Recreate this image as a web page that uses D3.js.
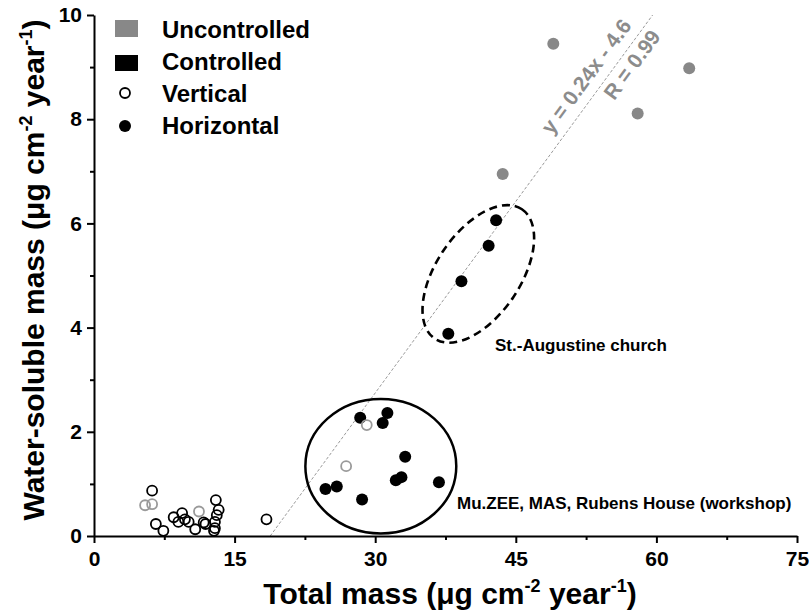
<!DOCTYPE html>
<html>
<head>
<meta charset="utf-8">
<script src="https://cdn.jsdelivr.net/npm/d3@7"></script>
<style>
  html, body { margin: 0; padding: 0; background: #fff; }
  svg { display: block; font-family: Arial, "Liberation Sans", sans-serif; }
</style>
</head>
<body>
<svg id="chart" width="809" height="614"></svg>
<script>
// ---------- data ----------
const xTicks = [0, 15, 30, 45, 60, 75];
const xMinorTicks = [7.5, 22.5, 37.5, 52.5, 67.5];
const yTicks = [0, 2, 4, 6, 8, 10];
const yMinorTicks = [1, 3, 5, 7, 9];

// Uncontrolled, horizontal (grey filled)
const uncHorX = [43.6, 49.0, 58.0, 63.5];
const uncHorY = [6.95, 9.45, 8.11, 8.98];
// Controlled, horizontal (black filled)
const ctrlHorX = [42.9, 42.1, 39.2, 37.8, 28.4, 31.3, 30.8, 33.2, 32.2, 32.8, 36.8, 24.7, 25.9, 28.6];
const ctrlHorY = [6.06, 5.57, 4.89, 3.88, 2.27, 2.36, 2.17, 1.52, 1.07, 1.13, 1.03, 0.90, 0.95, 0.70];
// Controlled, vertical (black open)
const ctrlVerX = [6.2, 6.6, 7.4, 8.5, 9.4, 9.0, 9.7, 10.1, 10.8, 11.7, 11.9, 12.8, 13.0, 13.3, 13.1, 12.9, 12.9, 18.4];
const ctrlVerY = [0.87, 0.23, 0.10, 0.36, 0.44, 0.27, 0.32, 0.27, 0.13, 0.26, 0.23, 0.10, 0.69, 0.50, 0.40, 0.27, 0.15, 0.32];
// Uncontrolled, vertical (grey open)
const uncVerX = [5.45, 6.2, 11.2, 29.1, 26.9];
const uncVerY = [0.59, 0.61, 0.47, 2.13, 1.34];

// regression line end points
const fitX = [18.8, 59.6];
const fitY = [0.0, 10.0];
const fitLabel = "y = 0.24x - 4.6";
const fitRLabel = "R = 0.99";

const legendLabels = ["Uncontrolled", "Controlled", "Vertical", "Horizontal"];
const annotations = ["St.-Augustine church", "Mu.ZEE, MAS, Rubens House (workshop)"];

// ---------- layout ----------
const svg = d3.select("#chart");
const x = d3.scaleLinear().domain([0, 75]).range([94, 797]);
const y = d3.scaleLinear().domain([0, 10]).range([536, 15]);
const GREY = "#888888";
const GREY_OPEN = "#9a9a9a";

const zip = (xs, ys) => xs.map((v, i) => ({x: v, y: ys[i]}));

// regression line
svg.append("line")
  .attr("x1", x(fitX[0])).attr("y1", y(fitY[0]))
  .attr("x2", x(fitX[1])).attr("y2", y(fitY[1]))
  .attr("stroke", "#9a9a9a").attr("stroke-width", 1)
  .attr("stroke-dasharray", "3,2");

// ellipses (annotation)
svg.append("ellipse")
  .attr("cx", x(30.6)).attr("cy", y(1.34))
  .attr("rx", x(30.6 + 8.05) - x(30.6))
  .attr("ry", y(1.34) - y(1.34 + 1.29))
  .attr("fill", "none").attr("stroke", "#000").attr("stroke-width", 2.5);

svg.append("ellipse")
  .attr("transform", `translate(${x(41.0)},${y(5.03)}) rotate(-56)`)
  .attr("cx", 0).attr("cy", 0).attr("rx", 78).attr("ry", 42)
  .attr("fill", "none").attr("stroke", "#000").attr("stroke-width", 2.6)
  .attr("stroke-dasharray", "8,5");

// axes
const axisStyle = g => {
  g.selectAll("path.domain").attr("stroke", "#000").attr("stroke-width", 2);
  g.selectAll(".tick line").attr("stroke", "#000").attr("stroke-width", 2);
  g.selectAll(".tick text").attr("fill", "#000").attr("font-size", 21).attr("font-weight", "bold")
    .attr("font-family", "Arial, 'Liberation Sans', sans-serif");
};

svg.append("g").attr("transform", "translate(0,536)")
  .call(d3.axisBottom(x).tickValues(xMinorTicks).tickSize(4).tickSizeOuter(0).tickFormat(""))
  .call(g => g.select("path.domain").remove())
  .call(axisStyle);
svg.append("g").attr("transform", "translate(0,536)")
  .call(d3.axisBottom(x).tickValues(xTicks).tickSize(7).tickSizeOuter(0).tickPadding(8).tickFormat(d3.format("d")))
  .call(axisStyle);

svg.append("g").attr("transform", "translate(94,0)")
  .call(d3.axisLeft(y).tickValues(yMinorTicks).tickSize(4).tickSizeOuter(0).tickFormat(""))
  .call(g => g.select("path.domain").remove())
  .call(axisStyle);
svg.append("g").attr("transform", "translate(94,0)")
  .call(d3.axisLeft(y).tickValues(yTicks).tickSize(7).tickSizeOuter(0).tickPadding(5).tickFormat(d3.format("d")))
  .call(axisStyle);

// axis titles
const xt = svg.append("text").attr("x", 450).attr("y", 604).attr("text-anchor", "middle")
  .attr("font-size", 30).attr("font-weight", "bold").attr("fill", "#000");
xt.append("tspan").text("Total mass (μg cm");
xt.append("tspan").attr("font-size", 18).attr("dy", -12).text("-2");
xt.append("tspan").attr("dy", 12).text(" year");
xt.append("tspan").attr("font-size", 18).attr("dy", -12).text("-1");
xt.append("tspan").attr("dy", 12).text(")");

const yt = svg.append("text").attr("transform", "translate(44,270) rotate(-90)").attr("text-anchor", "middle")
  .attr("font-size", 30).attr("font-weight", "bold").attr("fill", "#000");
yt.append("tspan").text("Water-soluble mass (μg cm");
yt.append("tspan").attr("font-size", 18).attr("dy", -12).text("-2");
yt.append("tspan").attr("dy", 12).text(" year");
yt.append("tspan").attr("font-size", 18).attr("dy", -12).text("-1");
yt.append("tspan").attr("dy", 12).text(")");

// points
svg.append("g").selectAll("circle").data(zip(ctrlVerX, ctrlVerY)).join("circle")
  .attr("cx", d => x(d.x)).attr("cy", d => y(d.y)).attr("r", 5)
  .attr("fill", "none").attr("stroke", "#000").attr("stroke-width", 1.8);

svg.append("g").selectAll("circle").data(zip(ctrlHorX, ctrlHorY)).join("circle")
  .attr("cx", d => x(d.x)).attr("cy", d => y(d.y)).attr("r", 6)
  .attr("fill", "#000");

svg.append("g").selectAll("circle").data(zip(uncVerX, uncVerY)).join("circle")
  .attr("cx", d => x(d.x)).attr("cy", d => y(d.y)).attr("r", 5)
  .attr("fill", "none").attr("stroke", GREY_OPEN).attr("stroke-width", 1.8);

svg.append("g").selectAll("circle").data(zip(uncHorX, uncHorY)).join("circle")
  .attr("cx", d => x(d.x)).attr("cy", d => y(d.y)).attr("r", 6)
  .attr("fill", GREY);

// regression labels, rotated along the line
const p1 = [x(fitX[0]), y(fitY[0])], p2 = [x(fitX[1]), y(fitY[1])];
const ang = Math.atan2(p2[1] - p1[1], p2[0] - p1[0]) * 180 / Math.PI;
const onLine = xv => [x(xv), p1[1] + (x(xv) - p1[0]) * (p2[1] - p1[1]) / (p2[0] - p1[0])];
const a1 = onLine(54.0);
svg.append("text").attr("transform", `translate(${a1[0]},${a1[1]}) rotate(${ang})`)
  .attr("x", 0).attr("y", -10).attr("text-anchor", "middle")
  .attr("font-size", 21).attr("font-weight", "bold").attr("fill", "#8c8c8c").text(fitLabel);
const a2 = onLine(56.3);
svg.append("text").attr("transform", `translate(${a2[0]},${a2[1]}) rotate(${ang})`)
  .attr("x", 0).attr("y", 20).attr("text-anchor", "middle")
  .attr("font-size", 21).attr("font-weight", "bold").attr("fill", "#8c8c8c").text(fitRLabel);

// annotations
svg.append("text").attr("x", 495).attr("y", 351).attr("font-size", 17).attr("font-weight", "bold")
  .attr("fill", "#000").text(annotations[0]);
svg.append("text").attr("x", 457).attr("y", 509).attr("font-size", 17).attr("font-weight", "bold")
  .attr("fill", "#000").text(annotations[1]);

// legend
const lg = svg.append("g");
lg.append("rect").attr("x", 115).attr("y", 20).attr("width", 23).attr("height", 17).attr("fill", GREY);
lg.append("rect").attr("x", 115).attr("y", 55).attr("width", 23).attr("height", 16).attr("fill", "#000");
lg.append("circle").attr("cx", 125).attr("cy", 93).attr("r", 5).attr("fill", "#fff")
  .attr("stroke", "#000").attr("stroke-width", 1.8);
lg.append("circle").attr("cx", 125).attr("cy", 126).attr("r", 6).attr("fill", "#000");
const legY = [37.5, 70, 102, 134];
legendLabels.forEach((t, i) => {
  lg.append("text").attr("x", 162).attr("y", legY[i]).attr("font-size", 24).attr("font-weight", "bold")
    .attr("fill", "#000").text(t);
});
</script>
</body>
</html>
